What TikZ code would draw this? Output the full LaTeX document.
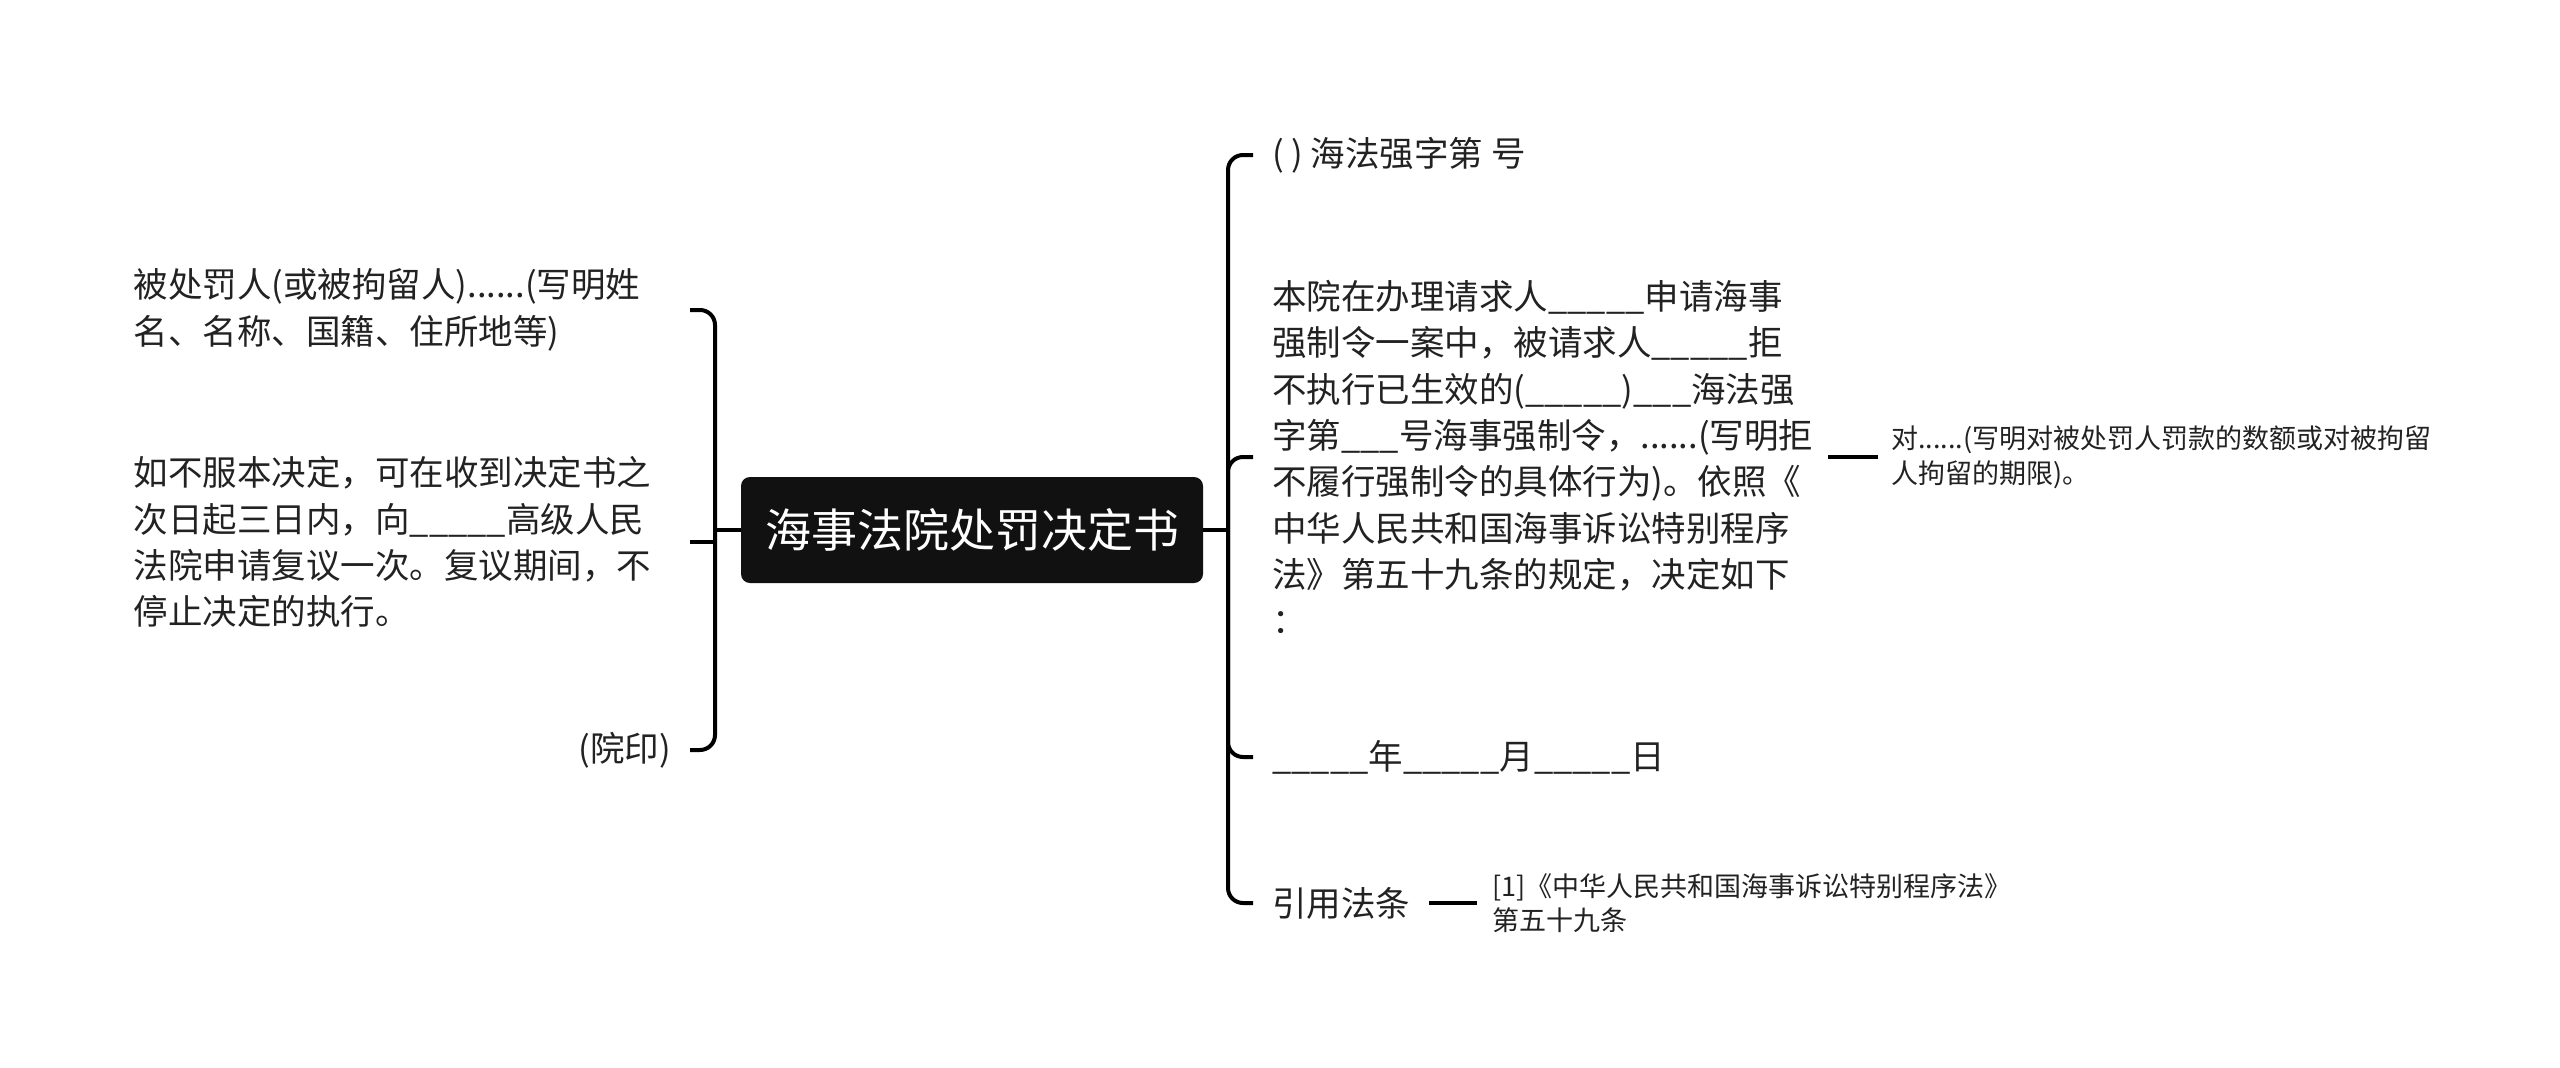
\documentclass[tikz,border=0pt]{standalone}
\usepackage{fontspec}
\setmainfont{Noto Sans CJK SC}
\definecolor{txt}{HTML}{222222}
\definecolor{rootbg}{HTML}{111111}
\tikzset{
  conn/.style={line width=4pt, black, rounded corners=15pt},
  maintext/.style={font=\fontsize{34.5pt}{46.3pt}\selectfont, text=txt, inner ysep=0pt},
  smalltext/.style={font=\fontsize{27pt}{34.5pt}\selectfont, text=txt, inner ysep=0pt, align=left},
  lnode/.style={maintext, anchor=east, text width=537pt, align=left, inner xsep=19pt},
  lnodeshort/.style={maintext, anchor=east, inner xsep=19pt},
  rnode/.style={maintext, anchor=west, align=left, inner xsep=19pt},
  rnodewide/.style={maintext, anchor=west, text width=537pt, align=left, inner xsep=19pt},
  rootnode/.style={fill=rootbg, rounded corners=9pt, text=white, font=\fontsize{46pt}{52pt}\selectfont, minimum width=462pt, minimum height=106pt, inner sep=0pt},
}
\begin{document}
\begin{tikzpicture}[x=1pt,y=-1pt]
\useasboundingbox[fill=white] (0,0) rectangle (2560,1068);
\node[rootnode] (root) at (972,530) {海事法院处罚决定书};

% left children
\node[lnode] (l1) at (690,310) {被处罚人(或被拘留人)......(写明姓\\名、名称、国籍、住所地等)};
\node[lnode] (l2) at (690,542) {如不服本决定，可在收到决定书之\\次日起三日内，向\_\_\_\_\_高级人民\\法院申请复议一次。复议期间，不\\停止决定的执行。};
\node[lnodeshort] (l3) at (690,750) {(院印)};

% right children
\node[rnode] (r1) at (1253,155) {( ) 海法强字第 号};
\node[rnodewide] (r2) at (1253,457) {本院在办理请求人\_\_\_\_\_申请海事\\强制令一案中，被请求人\_\_\_\_\_拒\\不执行已生效的(\_\_\_\_\_)\_\_\_海法强\\字第\_\_\_号海事强制令，......(写明拒\\不履行强制令的具体行为)。依照《\\中华人民共和国海事诉讼特别程序\\法》第五十九条的规定，决定如下\\：};
\node[rnode] (r3) at (1253,757) {\_\_\_\_\_年\_\_\_\_\_月\_\_\_\_\_日};
\node[rnode] (r4) at (1253,903) {引用法条};

\node[smalltext, anchor=west, inner xsep=13pt] (r2c) at (1878,457) {对......(写明对被处罚人罚款的数额或对被拘留\\人拘留的期限)。};
\node[smalltext, anchor=west, inner xsep=15pt] (r4c) at (1477,903) {[1]《中华人民共和国海事诉讼特别程序法》\\第五十九条};

% connectors
\coordinate (Ls) at (715,530);
\coordinate (Rs) at (1228,530);
\draw[conn] (root.west) -- (Ls);
\draw[conn] (Ls) |- (l1.east);
\draw[conn] (Ls |- l2.east) -- (l2.east);
\draw[conn] (Ls) |- (l3.east);
\draw[conn] (root.east) -- (Rs);
\draw[conn] (Rs) |- (r1.west);
\draw[conn] (Rs) |- (r2.west);
\draw[conn] (Rs) |- (r3.west);
\draw[conn] (Rs) |- (r4.west);
\draw[conn] (r2.east) -- (r2c.west);
\draw[conn] (r4.east) -- (r4c.west);
\end{tikzpicture}
\end{document}
